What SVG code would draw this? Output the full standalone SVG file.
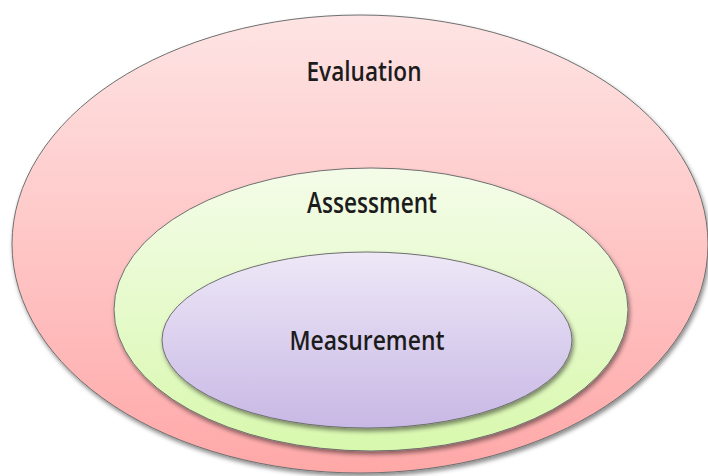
<svg xmlns="http://www.w3.org/2000/svg" width="708" height="476" viewBox="0 0 708 476">
  <defs>
    <linearGradient id="gPink" x1="0" y1="0" x2="0" y2="1">
      <stop offset="0" stop-color="#fee4e4"/>
      <stop offset="1" stop-color="#ffa8a8"/>
    </linearGradient>
    <linearGradient id="gGreen" x1="0" y1="0" x2="0" y2="1">
      <stop offset="0" stop-color="#f4fce9"/>
      <stop offset="1" stop-color="#d8f8ad"/>
    </linearGradient>
    <linearGradient id="gPurple" x1="0" y1="0" x2="0" y2="1">
      <stop offset="0" stop-color="#eee8f7"/>
      <stop offset="1" stop-color="#c8b8e5"/>
    </linearGradient>
    <filter id="shadow" x="-10%" y="-10%" width="120%" height="125%">
      <feDropShadow dx="1.5" dy="3" stdDeviation="2" flood-color="#000" flood-opacity="0.45"/>
    </filter>
  </defs>
  <style>
    .ring { stroke: #6f6f6f; stroke-width: 1; filter: url(#shadow); }
    .label { font-family: "Open Sans", "Noto Sans", "Liberation Sans", sans-serif; font-weight: 600; fill: #1c1c1c; text-anchor: middle; }
  </style>
  <rect width="708" height="476" fill="#ffffff"/>
  <g id="evaluation">
    <ellipse class="ring" cx="360" cy="244" rx="348" ry="229" fill="url(#gPink)"/>
    <text class="label" x="364" y="81" font-size="27" textLength="115" lengthAdjust="spacingAndGlyphs">Evaluation</text>
  </g>
  <g id="assessment">
    <ellipse class="ring" cx="371" cy="309.5" rx="257" ry="141.5" fill="url(#gGreen)"/>
    <text class="label" x="372" y="213" font-size="28" textLength="130" lengthAdjust="spacingAndGlyphs">Assessment</text>
  </g>
  <g id="measurement">
    <ellipse class="ring" cx="367" cy="340" rx="205" ry="88" fill="url(#gPurple)"/>
    <text class="label" x="367" y="350" font-size="27" textLength="155" lengthAdjust="spacingAndGlyphs">Measurement</text>
  </g>
  <g id="connectors"/>
</svg>
